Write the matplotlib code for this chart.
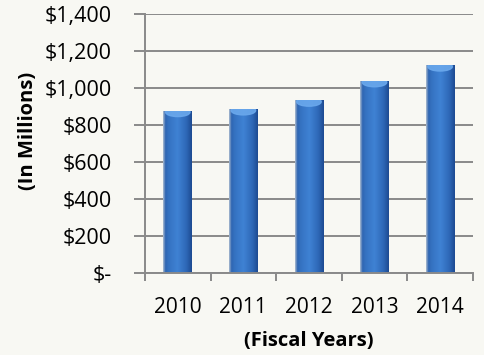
"""
Fiscal-year spending bar chart (in millions), cylinder-style bars.
Saves out.png.
"""
import numpy as np
import matplotlib
matplotlib.use("Agg")
import matplotlib.pyplot as plt
from matplotlib.colors import LinearSegmentedColormap
from matplotlib.patches import Ellipse
from matplotlib.ticker import FixedLocator, FuncFormatter

years = ["2010", "2011", "2012", "2013", "2014"]
values = [877, 886, 933, 1038, 1123]
y_ticks = [0, 200, 400, 600, 800, 1000, 1200, 1400]

BG = "#f8f8f3"
GRID = "#8a8a8a"
FONT = "Open Sans"

plt.rcParams["font.family"] = [FONT, "DejaVu Sans"]

fig = plt.figure(figsize=(4.85, 3.55), dpi=100, facecolor=BG)
ax = fig.add_axes([0.299, 0.231, 0.676, 0.730], facecolor=BG)

x = np.arange(len(years))
bars = ax.bar(x, values, width=0.44, color="#3470c0", zorder=3)

# cylinder shading: horizontal gradient clipped to each bar, light cap on top
shade = LinearSegmentedColormap.from_list(
    "cyl",
    [(0.0, "#a7b9cf"), (0.08, "#2f66b2"), (0.2, "#3573c2"),
     (0.5, "#3f82d4"), (0.82, "#2e67b6"), (1.0, "#1d4b92")])
grad = np.linspace(0, 1, 64).reshape(1, -1)
for b in bars:
    x0, w, h = b.get_x(), b.get_width(), b.get_height()
    im = ax.imshow(grad, cmap=shade, aspect="auto", zorder=4,
                   extent=(x0, x0 + w, 0, h), interpolation="bilinear")
    im.set_clip_path(b)
    cap = Ellipse((x0 + w / 2, h - 8), w * 0.85, 48, color="#6aa8ec",
                  alpha=0.9, zorder=5)
    ax.add_patch(cap)
    cap.set_clip_path(b)

ax.set_xlim(-0.5, len(years) - 0.5)
ax.set_ylim(0, 1400)
ax.set_yticks(y_ticks)
ax.yaxis.set_major_formatter(
    FuncFormatter(lambda v, _: "$-" if v == 0 else f"${v:,.0f}"))
ax.set_xticks(x)
ax.set_xticklabels(years)
ax.xaxis.set_minor_locator(FixedLocator(np.arange(-0.5, len(years), 1.0)))

ax.grid(axis="y", color=GRID, linewidth=1.4, zorder=1)
ax.set_axisbelow(True)
for s in ("top", "right"):
    ax.spines[s].set_visible(False)
for s in ("left", "bottom"):
    ax.spines[s].set_color(GRID)
    ax.spines[s].set_linewidth(1.4)
    ax.spines[s].set_zorder(6)

ax.tick_params(axis="y", length=8, width=1.4, color=GRID, labelsize=15.5,
               pad=16, labelcolor="black")
ax.tick_params(axis="x", which="major", length=0, labelsize=15, pad=17)
ax.tick_params(axis="x", which="minor", length=6, width=1.4, color=GRID)

ax.set_xlabel("(Fiscal Years)", fontsize=14.5, fontweight="bold", labelpad=10)
fig.text(0.058, 0.63, "(In Millions)", rotation=90, fontsize=14.5,
         fontweight="bold", ha="center", va="center")

fig.savefig("out.png", dpi=100, facecolor=BG)
